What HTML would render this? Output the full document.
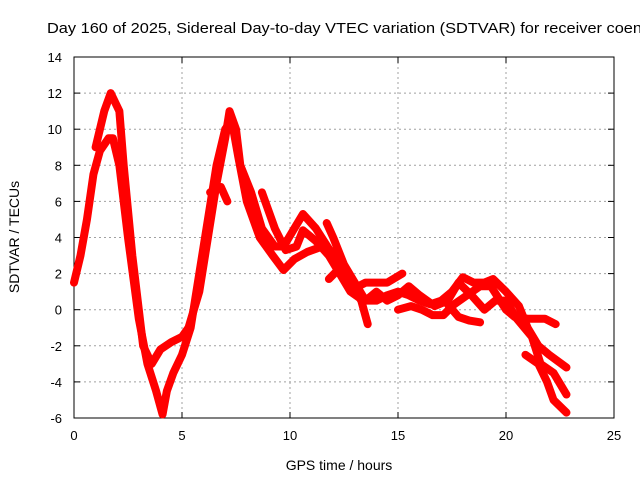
<!DOCTYPE html>
<html><head><meta charset="utf-8"><style>
body{margin:0;background:#fff}
svg{display:block;font-family:"Liberation Sans",sans-serif}
</style></head><body>
<svg id="chart" width="640" height="480">
<text x="47" y="33" font-size="15" textLength="595" lengthAdjust="spacingAndGlyphs">Day 160 of 2025, Sidereal Day-to-day VTEC variation (SDTVAR) for receiver coen</text>
<g id="grid"></g><g id="axes"></g><g id="series"></g>
<text x="339" y="470" font-size="14" text-anchor="middle">GPS time / hours</text>
<text x="19" y="237" font-size="14" text-anchor="middle" transform="rotate(-90 19 237)">SDTVAR / TECUs</text>
</svg>
<script>
const xTicks=[0,5,10,15,20,25];
const yTicks=[-6,-4,-2,0,2,4,6,8,10,12,14];
const trackA=[[0,1.5],[0.3,3],[0.6,5],[0.9,7.5],[1.2,8.8],[1.6,9.5],[1.8,9.5],[2.1,8],[2.5,4],[3.0,-0.5],[3.4,-3],[3.8,-4.5],[4.1,-5.8],[4.3,-4.5],[4.6,-3.5],[5.0,-2.5],[5.4,-1],[5.8,2],[6.2,5],[6.6,8],[7.0,10],[7.3,10.5],[7.6,8.5],[8.0,6],[8.6,4],[9.2,3],[9.7,2.2],[10.2,2.8],[10.8,3.2],[11.5,3.5],[12.0,3.2]];
const trackB=[[1.0,9],[1.4,11],[1.7,12],[2.1,11],[2.3,8],[2.7,3],[3.2,-2],[3.6,-3],[4.0,-2.2],[4.5,-1.8],[5.0,-1.5],[5.3,-1],[5.8,1],[6.2,4],[6.6,7],[7.0,9.5],[7.2,11],[7.5,10],[7.7,8],[8.2,6.5],[8.7,4.5],[9.3,3.5],[9.7,3.5],[10.2,4.5],[10.6,5.3],[11.2,4.5],[12.0,3.0],[12.5,2],[13,1.2],[13.5,1.5],[14,1.5],[14.5,1.5],[15.2,2.0]];
const trackC=[[6.3,6.5],[6.8,6.8],[7.1,6.0]];
const trackD=[[8.7,6.5],[9.3,4.5],[9.8,3.3],[10.3,3.5],[10.6,4.4],[11.2,3.8],[11.8,3.0],[12.3,2.0],[12.8,1.0],[13.4,0.5],[14,0.5],[14.5,0.8],[15,1],[15.5,0.8],[16,0.5],[16.5,0.3],[17,0.5],[17.5,1],[18,1.8],[18.5,1.5],[19,1.5],[19.4,1.7],[20,1.0],[20.6,0.2],[21,-1],[21.5,-2],[22,-2.5],[22.8,-3.2]];
const trackE=[[11.7,4.8],[12.0,4],[12.5,2.5],[13,1.5],[13.5,0.5],[14,1],[14.5,0.5],[15,0.8],[15.5,1.3],[16,0.8],[16.7,0.2],[17.3,0.5],[17.8,1.5],[18.4,0.8],[19,0],[19.5,0.5],[20,0.5],[20.5,-0.5],[21.2,-1.5],[21.6,-3],[22.2,-3.5],[22.8,-4.7]];
const trackF=[[11.8,1.7],[12.3,2.3],[12.8,1.5],[13.3,0.5],[13.6,-0.8]];
const trackG=[[15,0],[15.6,0.2],[16.1,0],[16.6,-0.3],[17.1,-0.3],[17.6,0.3],[18.2,0.8],[18.8,1.3],[19.3,1.3],[20,0],[20.4,-0.4],[21,-0.5],[21.8,-0.5],[22.3,-0.8]];
const trackH=[[17.3,0.3],[17.8,-0.4],[18.3,-0.6],[18.8,-0.7]];
const trackI=[[20.9,-2.5],[21.5,-3],[21.9,-4],[22.2,-5.0],[22.8,-5.7]];
const tracks=[trackA,trackB,trackC,trackD,trackE,trackF,trackG,trackH,trackI];
const X0=74,X1=614,Y0=418,Y1=57;
const sx=h=>X0+h/25*(X1-X0);
const sy=v=>Y0-(v+6)/20*(Y0-Y1);
const NS="http://www.w3.org/2000/svg";
const grid=document.getElementById('grid'),axes=document.getElementById('axes'),ser=document.getElementById('series');
function mk(tag,at,parent){const e=document.createElementNS(NS,tag);for(const k in at)e.setAttribute(k,at[k]);parent.appendChild(e);return e;}
xTicks.forEach(t=>{const x=sx(t);
 if(t>0&&t<25){const g=mk('line',{x1:x,x2:x,y1:Y1,y2:Y0,stroke:'#a0a0a0','stroke-dasharray':'2,3'},grid);
 
 }
 mk('line',{x1:x,x2:x,y1:Y0,y2:Y0-6,stroke:'#000'},axes);mk('line',{x1:x,x2:x,y1:Y1,y2:Y1+6,stroke:'#000'},axes);
 const l=mk('text',{x:x,y:Y0+22,'font-size':13,'text-anchor':'middle'},axes);l.textContent=t;
 
 });
yTicks.forEach(t=>{const y=sy(t);
 if(t>-6&&t<14){const g=mk('line',{x1:X0,x2:X1,y1:y,y2:y,stroke:'#a0a0a0','stroke-dasharray':'2,3'},grid);
 
 }
 mk('line',{x1:X0,x2:X0+6,y1:y,y2:y,stroke:'#000'},axes);mk('line',{x1:X1,x2:X1-6,y1:y,y2:y,stroke:'#000'},axes);
 const l=mk('text',{x:X0-12,y:y+5,'font-size':13,'text-anchor':'end'},axes);l.textContent=t;
 
 });
const fr=mk('rect',{x:X0,y:Y1,width:X1-X0,height:Y0-Y1,fill:'none',stroke:'#000'},axes);


tracks.forEach(tr=>{
 const p=mk('polyline',{points:tr.map(d=>sx(d[0])+','+sy(d[1])).join(' '),fill:'none',stroke:'#ff0000','stroke-width':8,'stroke-linejoin':'round','stroke-linecap':'round'},ser);
 
 
});
</script>
</body></html>
